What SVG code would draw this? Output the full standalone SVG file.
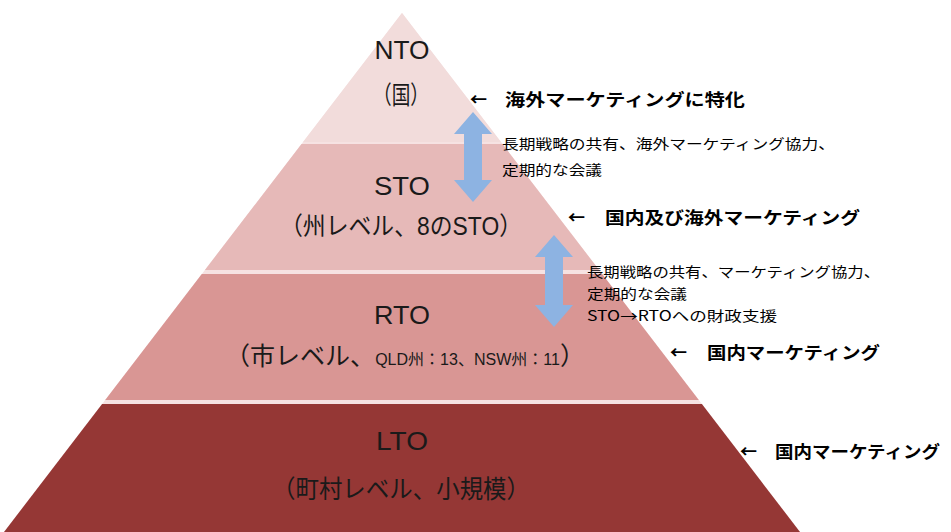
<svg xmlns="http://www.w3.org/2000/svg" width="951" height="532" viewBox="0 0 951 532">
<style>
.t{font-family:"Liberation Sans","Noto Sans CJK JP",sans-serif;fill:#1a1a1a}
.big{font-size:25px;text-anchor:middle}
.lbl{font-size:17px;font-weight:bold;font-family:"Noto Sans CJK JP",sans-serif;fill:#000}
.sm{font-size:14px;font-family:"Noto Sans CJK JP",sans-serif;fill:#000}
.arr{fill:#8db3e2}
</style>
<rect width="951" height="532" fill="#ffffff"/>
<polygon points="402,13 800,532 4,532" fill="#f6e2e2"/>
<g id="nto">
<polygon points="402,13 500.9,142 303.1,142" fill="#f2dcdb"/>
<text class="t big" x="402" y="59" textLength="55" lengthAdjust="spacingAndGlyphs">NTO</text>
<text class="t big" x="401" y="104" textLength="56" lengthAdjust="spacingAndGlyphs">（国）</text>
</g>
<g id="sto">
<polygon points="301.5,144 502.5,144 599.1,270 204.9,270" fill="#e6b9b8"/>
<text class="t big" x="402" y="195" textLength="56" lengthAdjust="spacingAndGlyphs">STO</text>
<text class="t big" x="401" y="235" textLength="242" lengthAdjust="spacingAndGlyphs">（州レベル、8のSTO）</text>
</g>
<g id="rto">
<polygon points="201.8,274 602.2,274 698.8,400 105.2,400" fill="#d99694"/>
<text class="t big" x="402" y="324" textLength="56" lengthAdjust="spacingAndGlyphs">RTO</text>
<text class="t big" x="405" y="365" textLength="360" lengthAdjust="spacingAndGlyphs">（市レベル、<tspan font-size="16">QLD州：13、NSW州：11</tspan>）</text>
</g>
<g id="lto">
<polygon points="102.1,404 701.9,404 800,532 4,532" fill="#953735"/>
<text class="t big" x="402" y="450" textLength="52" lengthAdjust="spacingAndGlyphs">LTO</text>
<text class="t big" x="401" y="498" textLength="258" lengthAdjust="spacingAndGlyphs">（町村レベル、小規模）</text>
</g>
<g id="connectors">
<polygon class="arr" points="473,112 492,134 482,134 482,180 492,180 473,202 454,180 464,180 464,134 454,134"/>
<polygon class="arr" points="554,235 573,257 563,257 563,305 573,305 554,327 535,305 545,305 545,257 535,257"/>
</g>
<g id="labels">
<text class="lbl" x="470" y="106">←</text>
<text class="lbl" x="505" y="106" textLength="240" lengthAdjust="spacingAndGlyphs">海外マーケティングに特化</text>
<text class="sm" x="502" y="149" textLength="333" lengthAdjust="spacingAndGlyphs">長期戦略の共有、海外マーケティング協力、</text>
<text class="sm" x="502" y="175" textLength="100" lengthAdjust="spacingAndGlyphs">定期的な会議</text>
<text class="lbl" x="568" y="224">←</text>
<text class="lbl" x="605" y="224" textLength="255" lengthAdjust="spacingAndGlyphs">国内及び海外マーケティング</text>
<text class="sm" x="587" y="277" textLength="293" lengthAdjust="spacingAndGlyphs">長期戦略の共有、マーケティング協力、</text>
<text class="sm" x="587" y="299" textLength="100" lengthAdjust="spacingAndGlyphs">定期的な会議</text>
<text class="sm" x="587" y="321" textLength="190" lengthAdjust="spacingAndGlyphs">STO→RTOへの財政支援</text>
<text class="lbl" x="670" y="359">←</text>
<text class="lbl" x="707" y="359" textLength="173" lengthAdjust="spacingAndGlyphs">国内マーケティング</text>
<text class="lbl" x="740" y="458">←</text>
<text class="lbl" x="775" y="458" textLength="165" lengthAdjust="spacingAndGlyphs">国内マーケティング</text>
</g>
</svg>
